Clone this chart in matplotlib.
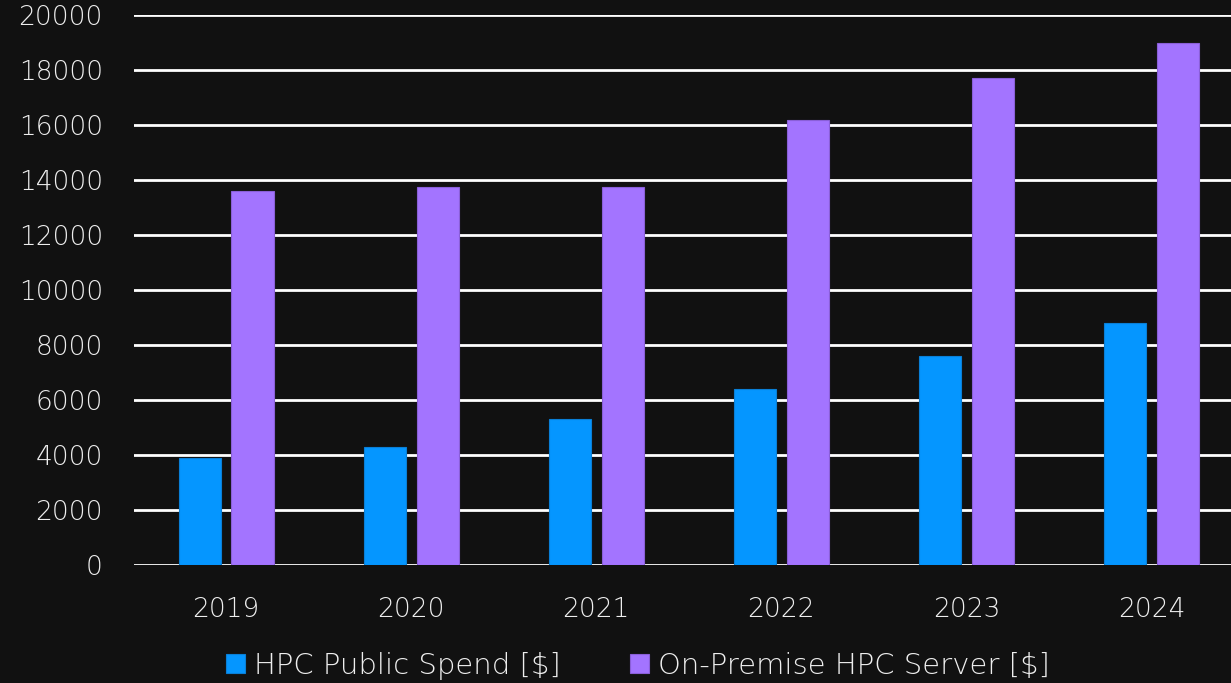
import numpy as np
import matplotlib.pyplot as plt

# Datos del gráfico
years = ['2019', '2020', '2021', '2022', '2023', '2024']
public_spend = [3900, 4300, 5300, 6400, 7600, 8800]
on_premise = [13600, 13750, 13750, 16200, 17700, 19000]
y_ticks = [0, 2000, 4000, 6000, 8000, 10000, 12000, 14000, 16000, 18000, 20000]

bg = '#111111'
blue = '#0596FF'
purple = '#A374FF'

plt.rcParams['font.family'] = ['DejaVu Sans']
plt.rcParams['font.weight'] = 200

fig = plt.figure(figsize=(12.31, 6.83), dpi=100, facecolor=bg)
ax = fig.add_axes([133.5 / 1231, 1 - 565 / 683, 1 - 133.5 / 1231, 550 / 683])
ax.set_facecolor(bg)

x = np.arange(len(years))
w = 0.227
ax.bar(x - 0.143, public_spend, w, color=blue, edgecolor='#0a7fd6', linewidth=0.8,
       label='HPC Public Spend [$]', zorder=3)
ax.bar(x + 0.143, on_premise, w, color=purple, edgecolor='#8a5fd8', linewidth=0.8,
       label='On-Premise HPC Server [$]', zorder=3)

ax.set_ylim(0, 20000)
ax.set_xlim(-0.5, 5.43)
ax.set_yticks(y_ticks)
ax.set_xticks(x)
ax.set_xticklabels(years)
ax.yaxis.grid(True, color='white', linewidth=2, zorder=1)
ax.set_axisbelow(True)
for s in ax.spines.values():
    s.set_visible(False)
ax.tick_params(axis='both', length=0, colors='#eeeeee', labelsize=19)
ax.tick_params(axis='y', pad=22)
ax.tick_params(axis='x', pad=23)

leg = fig.legend(loc='center', bbox_to_anchor=(638 / 1231, 1 - 666 / 683), ncol=2,
                 frameon=False, fontsize=21, handlelength=0.65, handleheight=0.65,
                 handletextpad=0.3, columnspacing=2.4, labelcolor='#eeeeee')

fig.savefig('out.png', dpi=100, facecolor=bg)
